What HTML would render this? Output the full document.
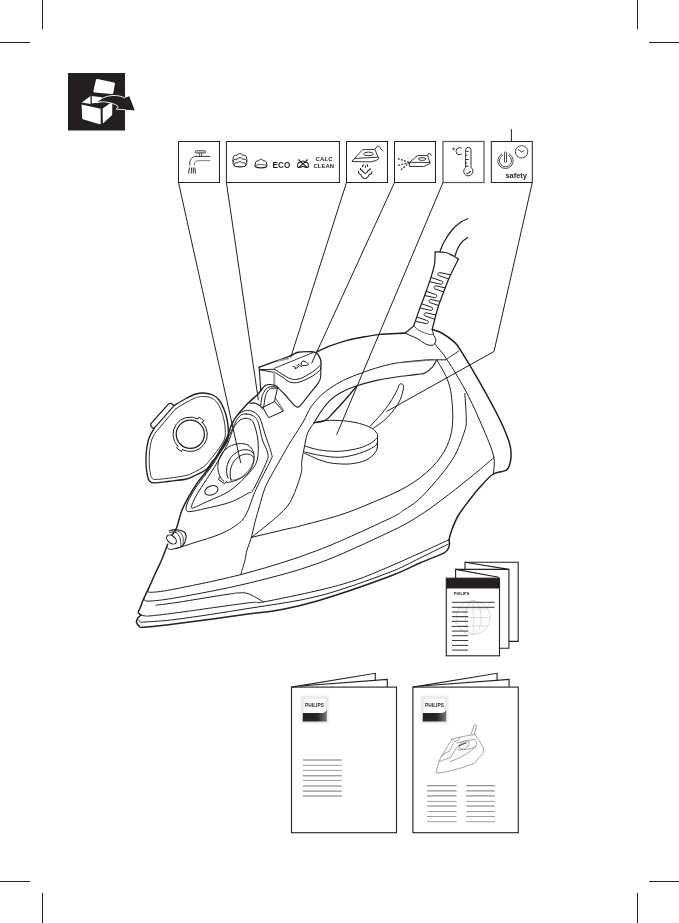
<!DOCTYPE html>
<html><head><meta charset="utf-8">
<style>
html,body{margin:0;padding:0;background:#fff;}
body{width:679px;height:923px;overflow:hidden;position:relative;}
svg{position:absolute;left:0;top:0;}
text{font-family:"Liberation Sans",sans-serif;opacity:0.999;}
</style></head>
<body>
<svg width="679" height="923" viewBox="0 0 679 923">
<g stroke="#231f20" stroke-width="1" fill="none">
<!-- crop marks -->
<path d="M42.5,0V29.5M0,42.5H30M637.5,0V29.5M649,42.5H679M0,881.5H30M42.5,893V923M649,881.5H679M637.5,893V923"/>
</g>
<!-- black box icon -->
<rect x="68" y="73" width="57" height="57.5" fill="#231f20"/>
<g fill="#fff">
<path d="M97.6,79 C96.7,78.9 96.1,79.4 95.9,80.3 L93.4,90.8 C93.2,91.7 93.7,92.4 94.6,92.5 L111.9,94.1 C112.7,94.2 113.2,93.7 113.3,93 L114.9,84.2 C115,83.4 114.6,82.8 113.8,82.6 Z"/>
<path d="M81.6,104.6 L100.6,108.7 L100.8,123.6 C100.8,124.2 100.3,124.5 99.7,124.3 L83.6,119.6 C82.7,119.3 82.1,118.6 82.1,117.7 Z"/>
<path d="M102.6,108.5 L112.3,101.8 L112.2,114.2 C112.2,114.9 111.9,115.4 111.4,115.8 L102.9,123.6 Z"/>
<path d="M81.8,102.6 L90.5,96 L90.5,103.9 Z"/>
<path d="M91.8,95.9 L101.8,97.3 L101.8,102 L91.8,103.6 Z"/>
</g>
<path d="M96.6,102.7 C100,99 105,96 112,95.5 C118,95.1 122.5,96.5 125.8,98.6 L129.2,96.3 L134.7,110.2 L116.3,109.2 L118.3,106.6 C115.5,104 111,102.6 104.5,101.9 C101,101.7 98.5,102 96.6,102.7 Z" fill="#231f20" stroke="#fff" stroke-width="0.9"/>
<path d="M124.9,97.8 L129.2,96.3 L134.7,110.2 L125.5,109.8 Z" fill="#231f20"/>
<!-- icon boxes -->
<g stroke="#231f20" stroke-width="1.0" fill="none">
<rect x="178.5" y="141.5" width="41" height="41"/>
<rect x="226.4" y="141.5" width="113" height="41"/>
<rect x="346.5" y="141.5" width="41" height="41"/>
<rect x="394.5" y="141.5" width="41" height="41"/>
<rect x="443" y="141.5" width="41" height="41" stroke="#555" stroke-width="1.2"/>
<rect x="491.3" y="141.5" width="41" height="41"/>
<path d="M511.4,129.2V141.5"/>
<!-- leader lines -->
<path d="M178.5,182.5L240.8,463.2"/>
<path d="M226.4,182.5L258.4,400.3"/>
<path d="M346.5,182.5L290.7,357.5"/>
<path d="M394.5,182.5L311.6,363.3"/>
<path d="M443,182.5L336.6,434.8"/>
<path d="M532.3,182.5L494,351.5L386.5,411.5"/>
</g>
<!-- tap icon -->
<g stroke="#231f20" stroke-width="0.9" fill="none">
<rect x="195.4" y="150.8" width="10.2" height="2.1" rx="1.05"/>
<path d="M199.6,152.9V156.4M201.6,152.9V156.4" stroke-width="0.7"/>
<path d="M210.3,156.4H196 C192,156.4 189.8,159.5 189.8,163.5 V165.5"/>
<path d="M210.3,160.7H197.5 C195.5,160.7 194.4,162 194.4,164 V165.5" stroke="#777" stroke-width="1"/>
<path d="M189.6,167.5 L188.4,173.5 M191.6,167.5 L191.2,173.5 M193.2,167.5 L193.4,173.5 M194.8,167.5 L195.6,173.5" stroke-width="0.9"/>
</g>
<!-- steam icons -->
<g stroke="#231f20" stroke-width="0.95" fill="none">
<path d="M233.10,158.80 C232.80,155.72 234.73,154.77 237.18,155.33 C237.59,152.92 242.21,152.92 242.62,155.33 C245.07,154.77 247.00,155.72 246.70,158.80"/>
<path d="M233.10,162.40 C232.80,159.65 234.73,158.80 237.18,159.30 C237.59,157.15 242.21,157.15 242.62,159.30 C245.07,158.80 247.00,159.65 246.70,162.40"/>
<path d="M233.1,158.8 C232.6,160.2 232.8,161.6 233.3,162.4 M246.7,158.8 C247.2,160.2 247,161.6 246.5,162.4"/>
<path d="M234.10,165.20 C233.80,163.11 235.49,162.46 237.58,162.84 C237.93,161.21 241.87,161.21 242.22,162.84 C244.31,162.46 246.00,163.11 245.70,165.20"/>
<path d="M234.1,165.2 C234.3,167.3 245.5,167.3 245.7,165.2" stroke-width="1.3"/>
<path d="M233.3,162.4 C232.5,163.5 233,164.5 234.1,165.2 M246.5,162.4 C247.3,163.5 246.8,164.5 245.7,165.2"/>
<path d="M255.40,164.20 C255.10,161.34 256.74,160.46 258.76,160.98 C259.10,158.74 262.90,158.74 263.24,160.98 C265.26,160.46 266.90,161.34 266.60,164.20"/>
<path d="M255.4,164.2 C254.8,165.2 255,166.6 256,167 C257.5,168.2 264.5,168.2 266,167 C267,166.6 267.2,165.2 266.6,164.2" stroke-width="1.2"/>
<path d="M256,165.2 C258,164.3 264,164.3 266,165.2" stroke-width="0.7"/>
<path d="M297.70,165.30 C297.40,162.77 298.97,161.99 300.88,162.45 C301.20,160.47 304.80,160.47 305.12,162.45 C307.03,161.99 308.60,162.77 308.30,165.30" stroke-width="1.1"/>
<path d="M297.7,165.3 C297,166.3 297.6,167.3 299,167.4 C300.5,167.6 301.5,167 303,166.3 C304.5,167 305.5,167.6 307,167.4 C308.4,167.3 309,166.3 308.3,165.3" stroke-width="1.1"/>
<path d="M298.6,159.8 L307.5,167.6 M307.4,159.8 L298.5,167.6 M297.8,160 H299.8 M306.2,160 H308.2" stroke-width="1.1"/>
</g>
<g fill="#231f20" font-weight="bold">
<text x="272.5" y="168" font-size="8.2" letter-spacing="0.1">ECO</text>
<text x="315.6" y="160.6" font-size="5.9" letter-spacing="0.2">CALC</text>
<text x="313.4" y="167.9" font-size="5.9" letter-spacing="0.1">CLEAN</text>
</g>
<!-- iron icon box3 -->
<g stroke="#231f20" stroke-width="0.9" fill="none" stroke-linejoin="round">
<path d="M351.8,161.3 L362.6,149.7 L374.8,149.3 L378.8,158.8 L376,160.5 L370.8,161.9 L352,161.5"/>
<path d="M354,158.5 L378.3,157.2"/>
<ellipse cx="368.5" cy="153.9" rx="5" ry="1.8"/>
<path d="M374.8,149.3 L377.5,146.2 Q379,145.5 380,147.5 Q381.5,150 383.3,151.3"/>
<path d="M363.5,164.2 L362.3,167.1 M365.4,165.4 V167.7 M366.9,164.2 Q367.5,164.5 367.7,166.9" stroke-width="1.1"/>
<path d="M360.4,168 C360.2,169.5 360.8,170.2 362.3,170.5 C363,172 364,173.4 365.2,173.4 C366.4,173.4 367.4,172 368,170.5 C369.5,170.2 370.5,169.5 370.4,168.2" stroke-width="1.05"/>
<path d="M358.5,171.1 C358,172.8 358.8,174.2 360.8,174.6 C361.5,176.5 363,178.4 365,178.4 C367,178.4 368.5,176.5 369.2,174.6 C371.2,174.2 372,172.8 371.7,171.3" stroke-width="1.05"/>
</g>
<!-- spray icon box4 -->
<g stroke="#231f20" stroke-width="0.9" fill="none" stroke-linejoin="round">
<path d="M409.3,162.5 L417.5,155.6 L427.5,155.4 L430.2,163.5 L423.5,166.5 L409.3,166.5 Z"/>
<path d="M410,162.3 L430,162.5"/>
<ellipse cx="422.2" cy="159" rx="3.8" ry="1.4"/>
<path d="M427.5,155.4 L429.4,152.9 L431.5,155.6"/>
<path d="M398,158.6 L409.5,162.5 M398.3,165.3 L409.5,162.5 M401,169.8 L409.5,162.5" stroke-dasharray="1.9 1.3" stroke-width="1.15" stroke-linecap="butt"/>
</g>
<!-- thermometer box5 -->
<g stroke="#231f20" stroke-width="0.9" fill="none">
<path d="M465.6,167.5 V149.8 Q465.6,147.3 468.3,147.3 Q471,147.3 471,149.8 V167.5 A4.6,4.6 0 1 1 465.6,167.5Z"/>
<path d="M465.6,151.3H468.8M465.6,155.2H467.3M465.6,159.5H468.8M465.6,163H467.3M465.6,166.2H468.8"/>
<path d="M466.5,173.5 Q469,174 470.5,171" stroke-width="1.2"/>
<circle cx="453.6" cy="149" r="0.8"/>
<path d="M461.8,148.3 Q460.5,147.5 459,147.7 Q456,148.2 456,151.2 Q456,154.6 459,154.7 Q460.8,154.7 461.9,153.9"/>
</g>
<!-- safety box6 -->
<g stroke="#231f20" stroke-width="0.8" fill="none">
<path d="M501.5,154.2 A7.7,7.7 0 1 0 509.5,154.2 L508.7,155.7 A6,6 0 1 1 502.3,155.7Z"/>
<path d="M504.5,152.5 Q505.5,151 506.5,152.5 V162 Q505.5,163.5 504.5,162Z"/>
<circle cx="521.6" cy="151.8" r="6.2"/>
<path d="M518,149.5 L521.6,152 L524.3,150.6"/>
</g>
<text x="505.4" y="177.6" font-size="7.6" fill="#231f20" font-weight="bold" textLength="21.6" lengthAdjust="spacingAndGlyphs">safety</text>

<defs><clipPath id="sleeveclip"><path d="M413.7,325.9C414.6,323.3 417.0,316.2 419.1,310.4C421.2,304.6 424.0,297.5 426.2,291.3C428.4,285.1 430.8,278.0 432.2,273.4C433.6,268.8 434.1,267.4 434.6,263.8C435.1,260.2 435.1,253.9 435.2,251.9 L458.4,259.1 L458.4,259.1C457.0,261.9 452.3,271.0 450.1,275.8C447.9,280.6 447.3,282.5 445.3,287.7C443.3,292.9 440.4,299.9 438.2,306.8C436.0,313.8 433.2,325.6 432.2,329.4Z"/></clipPath></defs><g stroke="#231f20" fill="none" stroke-linecap="round" stroke-linejoin="round">
<path d="M174.0,405.6C176.0,404.4 182.3,400.4 186.0,398.5C189.7,396.6 193.0,394.9 196.0,394.0C199.0,393.1 201.2,392.8 204.0,393.0C206.8,393.2 210.3,393.8 212.8,395.0C215.3,396.2 217.2,397.8 219.0,400.0C220.8,402.2 222.2,404.8 223.5,408.0C224.8,411.2 226.2,415.3 227.0,419.0C227.8,422.7 228.2,426.5 228.3,430.0C228.4,433.5 228.9,436.5 227.7,440.0C226.5,443.5 223.6,447.3 221.0,451.0C218.4,454.7 214.4,459.0 212.0,462.0C209.6,465.0 209.2,467.0 206.5,469.2C203.8,471.4 199.3,473.4 196.0,475.0C192.7,476.6 190.8,478.0 186.5,479.0C182.2,480.0 175.4,480.6 170.0,481.2C164.6,481.8 157.5,482.9 154.1,482.9C150.7,482.9 150.6,482.1 149.5,481.0C148.4,479.9 148.1,478.8 147.5,476.0C146.9,473.2 146.2,468.3 146.0,464.0C145.8,459.7 146.0,454.3 146.5,450.0C147.0,445.7 147.7,441.6 149.0,438.0C150.3,434.4 153.2,430.0 154.1,428.4" stroke-width="1.38"/>
<path d="M175.5,409.0C177.4,407.8 183.5,403.9 187.0,402.0C190.5,400.1 193.7,398.4 196.5,397.5C199.3,396.6 201.5,396.4 204.0,396.5C206.5,396.6 209.3,397.0 211.5,398.0C213.7,399.0 215.4,400.5 217.0,402.5C218.6,404.5 219.8,407.1 221.0,410.0C222.2,412.9 223.3,416.7 224.0,420.0C224.7,423.3 225.2,426.8 225.3,430.0C225.4,433.2 225.6,435.8 224.5,439.0C223.4,442.2 221.0,445.4 218.5,449.0C216.0,452.6 211.9,457.6 209.5,460.5C207.1,463.4 206.4,464.6 203.9,466.5C201.4,468.4 197.5,470.5 194.5,472.0C191.5,473.5 190.1,474.5 186.0,475.5C181.9,476.5 175.1,477.3 170.0,478.0C164.9,478.7 158.5,479.5 155.5,479.5C152.5,479.5 152.8,478.9 152.0,478.0C151.2,477.1 151.0,476.5 150.5,474.0C150.0,471.5 149.3,467.0 149.2,463.0C149.1,459.0 149.2,454.0 149.7,450.0C150.2,446.0 151.0,441.9 152.0,439.0C153.0,436.1 154.9,433.6 155.5,432.5" stroke-width="0.88"/>
<path d="M154.1,428.4 Q150,427.5 150.9,423.6 L168.6,403.9 Q171,402.5 174,405.6" stroke-width="1.25"/>
<path d="M155.5,432.5 L175.5,409" stroke-width="0.88"/>
<path d="M154.1,428.4 L174,405.6" stroke-width="1.12"/>
<circle cx="190.3" cy="434.3" r="14.1" stroke-width="1.25"/>
<path d="M202.36,422.14A17.2,17.2 0 0 1 182.39,449.63L181.48,451.41A19.2,19.2 0 0 1 176.62,447.88L178.04,446.46A17.2,17.2 0 0 1 198.01,418.97L198.92,417.19A19.2,19.2 0 0 1 203.78,420.72L202.36,422.14Z" stroke-width="1.0"/>
<path d="M262.0,389.0C261.2,390.0 259.7,392.4 257.1,395.0C254.5,397.6 250.0,401.0 246.5,404.7C243.0,408.4 238.5,413.6 235.9,417.1C233.3,420.7 232.5,422.6 231.0,426.0C229.5,429.4 229.1,433.1 227.1,437.4C225.1,441.7 221.8,447.1 219.0,452.0C216.2,456.9 213.6,461.4 210.0,466.5C206.4,471.6 201.2,477.4 197.7,482.4C194.2,487.4 191.4,492.0 188.8,496.6C186.2,501.2 184.1,504.8 182.0,510.0C179.9,515.2 178.2,523.8 176.5,528.0C174.8,532.2 172.8,533.8 172.0,535.0" stroke-width="1.49"/>
<path d="M167.7,544.2C166.7,546.8 163.7,555.0 161.6,560.0C159.5,565.0 156.9,569.8 155.0,574.0C153.1,578.2 151.8,581.4 150.0,585.4C148.2,589.4 145.6,594.4 144.0,598.0C142.4,601.6 141.3,605.0 140.5,607.0C139.7,609.0 139.4,609.4 139.0,610.3C138.6,611.2 138.0,611.8 138.3,612.6C138.6,613.4 140.5,614.7 140.9,615.1" stroke-width="1.49"/>
<path d="M250.0,403.4C250.9,403.4 253.7,403.0 255.3,403.4C256.9,403.8 258.6,404.7 259.8,405.6C261.0,406.6 262.0,408.5 262.4,409.1" stroke-width="0.88"/>
<path d="M246.5,414.0C248.7,414.1 251.7,414.9 253.6,416.2C255.5,417.5 256.5,418.0 258.0,422.0C259.5,426.0 260.9,434.8 262.5,440.0C264.1,445.2 267.1,449.3 267.7,453.0C268.3,456.7 268.8,456.0 266.4,462.1C264.0,468.2 256.4,484.2 253.4,489.4C250.4,494.6 252.1,491.0 248.2,493.2C244.3,495.4 237.2,499.7 230.0,502.3C222.8,504.9 211.5,507.1 205.0,508.6C198.5,510.1 194.1,511.2 191.0,511.5C187.9,511.8 187.2,511.8 186.5,510.5C185.8,509.2 185.9,507.1 187.0,504.0C188.1,500.9 190.8,495.8 193.0,492.0C195.2,488.2 197.1,486.0 200.3,481.5C203.6,477.0 208.9,470.4 212.5,465.0C216.1,459.6 219.2,454.0 222.0,449.0C224.8,444.0 227.3,439.3 229.5,435.0C231.7,430.7 233.2,426.2 235.0,423.0C236.8,419.8 238.4,417.0 240.3,415.5C242.2,414.0 244.3,413.9 246.5,414.0Z" stroke-width="1.0"/>
<path d="M244.7,418.4C246.5,418.1 248.4,418.4 250.0,419.3C251.6,420.2 252.7,420.6 254.0,424.0C255.3,427.4 257.3,434.1 257.9,440.0C258.4,445.9 258.7,454.1 257.3,459.5C255.9,464.9 254.1,467.3 249.5,472.5C244.9,477.7 237.4,485.6 230.0,490.6C222.6,495.6 211.1,499.6 205.0,502.5C198.9,505.4 195.6,507.3 193.3,508.0C191.1,508.7 191.4,507.8 191.5,506.5C191.6,505.2 192.8,502.6 194.0,500.0C195.2,497.4 196.5,495.1 199.0,491.0C201.5,486.9 205.7,480.8 209.2,475.3C212.7,469.8 216.9,463.4 220.0,458.0C223.1,452.6 225.8,447.9 228.0,443.0C230.2,438.1 231.5,432.3 233.3,428.6C235.1,424.9 237.1,422.7 239.0,421.0C240.9,419.3 242.9,418.7 244.7,418.4Z" stroke-width="1.0"/>
<path d="M237.7,414.4C239.0,413.8 242.9,410.9 245.6,410.5C248.2,410.1 251.2,410.6 253.6,411.8C256.0,413.1 257.9,414.3 259.8,418.0C261.7,421.7 263.0,427.9 265.0,434.0C267.0,440.1 270.7,449.8 271.6,454.3C272.5,458.8 272.9,455.0 270.3,460.8C267.7,466.6 259.9,480.8 256.0,489.4C252.1,498.0 249.8,507.0 246.9,512.7C244.0,518.4 242.8,520.1 238.4,523.6C234.0,527.1 228.1,530.7 220.7,533.9C213.3,537.1 202.3,540.1 194.2,542.7C186.1,545.3 176.5,548.5 172.1,549.3C167.7,550.1 168.4,547.8 167.7,547.5" stroke-width="1.0"/>
<path d="M224,481.5 C217,476 215,462 223,452 C229,444.5 240,441.5 248,445 C255,449 256,460 251,469 C246,477 236,481.5 227,482.5" stroke-width="1.0"/>
<path d="M219.5,477 L218.5,479.5 L224.5,483.8 L226.5,481.5" stroke-width="1.0"/>
<path d="M228,478 C224.5,470 227,458 237,452 C243,448.5 250,449 253,453" stroke-width="1.0"/>
<path d="M231,480 C228.5,472 231,461 240,456 C245,453 251,453.5 253.4,456.9" stroke-width="1.0"/>
<path d="M230.5,480 C239,481 248,474 252.5,464 C254,460 254,457 253.4,456.9" stroke-width="0.62"/>
<ellipse cx="211.4" cy="490.4" rx="6.9" ry="4.4" transform="rotate(-22 211.4 490.4)" stroke-width="1.0"/>
<path d="M169.1,530.9C170.1,530.7 172.5,529.4 175.0,529.5C177.5,529.6 182.1,530.6 183.9,531.7C185.8,532.8 186.0,534.3 186.1,536.1C186.2,537.9 185.5,540.9 184.6,542.7C183.7,544.5 182.5,546.1 180.9,547.1C179.3,548.1 176.0,548.4 175.0,548.6" stroke-width="1.12"/>
<ellipse cx="171.5" cy="539.5" rx="5.6" ry="3.6" transform="rotate(40 171.5 539.5)" stroke-width="1.12"/>
<path d="M169.5,532.5C170.6,532.5 174.2,531.6 176.0,532.5C177.8,533.4 179.2,535.8 180.0,538.0C180.8,540.2 180.8,544.7 181.0,546.0" stroke-width="0.88"/>
<path d="M172.0,531.0C173.2,531.1 177.2,530.5 179.0,531.5C180.8,532.5 182.3,534.8 183.0,537.0C183.7,539.2 183.0,543.7 183.0,545.0" stroke-width="0.75"/>
<path d="M259.1,367.2C264.1,365.4 282.5,358.8 289.0,356.3C295.5,353.8 294.5,353.0 298.3,352.2C302.1,351.4 308.7,351.6 311.7,351.7C314.7,351.8 315.2,352.1 316.5,353.0C317.8,353.9 318.8,355.6 319.5,357.0C320.2,358.4 320.8,359.6 321.0,361.5C321.2,363.4 320.8,367.5 320.8,368.7" stroke-width="1.38"/>
<path d="M259.1,367.2 L259.3,369.7 L274.6,369.2" stroke-width="1.12"/>
<path d="M274.6,368.2 L312.7,352.7" stroke-width="0.88"/>
<path d="M278.7,360.6 L288,358.6" stroke="#999" stroke-width="1.84"/>
<path d="M274.6,369.2C275.8,370.0 279.1,372.3 281.8,373.9C284.6,375.5 288.0,378.2 291.1,379.0C294.2,379.8 296.8,379.7 300.4,378.5C304.0,377.3 309.4,373.9 312.7,371.8C316.0,369.7 318.8,366.6 320.0,365.6" stroke-width="1.0"/>
<path d="M275.6,372.8C276.8,373.6 280.6,375.9 283.0,377.5C285.4,379.1 287.3,381.3 290.0,382.1C292.7,382.9 295.5,383.1 299.3,382.1C303.1,381.1 309.2,378.0 312.7,375.9C316.2,373.8 319.2,370.7 320.5,369.7" stroke-width="1.0"/>
<path d="M320.8,368.7C320.8,370.2 321.0,375.5 320.5,378.0C320.0,380.5 319.8,380.9 317.7,383.9C315.6,386.8 311.2,392.0 308.2,395.7C305.2,399.4 301.7,404.5 299.5,406.2C297.3,407.9 297.2,407.5 294.8,405.6C292.4,403.7 288.2,398.1 285.3,395.0C282.4,391.9 278.7,388.5 277.4,387.2" stroke-width="1.12"/>
<path d="M259.3,369.7 L260.8,390.5" stroke-width="1.12"/>
<path d="M259.3,369.7 L273.8,372.3" stroke-width="1.0"/>
<path d="M274.1,372.3 L274.3,385" stroke="#aaa" stroke-width="2.3"/>
<path d="M261.0,390.0C261.8,389.2 264.0,386.2 265.6,385.3C267.2,384.4 269.1,384.4 270.8,384.5C272.5,384.6 274.8,385.3 275.9,385.8C277.0,386.3 277.2,387.1 277.5,387.4" stroke-width="1.12"/>
<path d="M263.6,408.0C263.9,405.9 264.8,398.6 265.6,395.6C266.5,392.6 267.6,391.2 268.7,390.0C269.8,388.8 270.7,388.6 272.0,388.3C273.3,388.0 275.8,388.4 276.5,388.4" stroke-width="1.0"/>
<path d="M260.5,407.0C260.8,405.3 261.3,399.3 262.0,396.6C262.7,393.9 263.6,392.5 264.6,391.0C265.6,389.5 266.8,388.1 268.2,387.4C269.6,386.7 271.3,386.6 272.8,386.6C274.3,386.6 276.3,387.4 277.0,387.5" stroke-width="1.0"/>
<path d="M277.6,387.5 L274.5,401.5" stroke-width="1.0"/>
<path d="M262.7,407.4 L274.5,401.5 L283.3,411.1 L268.6,417.7 L262.7,407.4" stroke-width="1.0"/>
<path d="M275.2,397.8 L283.6,410.4" stroke-width="0.75"/>
<path d="M250.9,403.0C251.8,403.1 254.0,402.7 256.0,403.4C258.0,404.1 261.6,406.7 262.7,407.4" stroke-width="0.88"/>
<path d="M301.2,363.8 C301,362 302.5,360.8 304,361.1 C305.5,361.5 307.5,363 308.8,364.3 C308,365.5 305.5,365.7 303,365.6 C302,365.5 301.3,364.8 301.2,363.8Z M298.3,364.3 L301.6,366.5 M296.8,365.4 L299,366.8 M293,366.3 L295.5,367.4 M295,368.8 L297.5,367.6" stroke-width="1.0"/>
<path d="M316.5,352.1C318.7,351.1 324.4,348.2 329.5,346.2C334.6,344.2 341.2,341.9 347.1,340.3C353.0,338.7 359.3,337.8 364.8,336.8C370.3,335.8 374.1,335.0 380.0,334.4C385.9,333.8 395.8,333.5 400.0,333.3C404.2,333.1 404.5,333.1 405.4,333.0" stroke-width="1.38"/>
<path d="M445.7,359.8C444.2,359.8 440.2,359.8 436.8,359.8C433.4,359.8 431.8,359.4 425.0,360.0C418.2,360.6 404.4,361.7 396.2,363.1C388.0,364.5 381.1,366.6 375.6,368.2C370.1,369.8 367.3,371.0 363.0,372.5C358.7,374.0 354.4,375.5 350.0,377.4C345.6,379.3 341.4,381.2 336.8,384.0C332.2,386.8 326.4,390.5 322.1,394.3C317.8,398.1 314.2,402.4 311.0,407.0C307.8,411.6 306.7,415.9 303.0,422.1C299.3,428.4 292.8,438.0 288.9,444.5C285.0,451.0 282.2,456.3 279.5,461.0C276.8,465.7 275.3,468.0 272.9,472.5C270.5,477.0 267.2,482.6 265.0,488.0C262.8,493.4 261.6,499.2 259.9,504.9C258.2,510.6 256.4,516.6 255.0,522.0C253.6,527.4 252.7,532.7 251.4,537.4C250.1,542.1 248.1,546.2 247.0,550.0C245.9,553.8 246.0,556.0 245.0,560.0C244.0,564.0 241.6,571.6 240.9,573.9" stroke-width="1.0"/>
<path d="M314.2,422.7C315.3,420.9 318.1,415.6 320.7,412.0C323.2,408.4 326.2,404.1 329.5,400.9C332.8,397.7 336.2,395.2 340.5,392.8C344.8,390.4 349.5,388.3 355.4,386.3C361.2,384.3 368.8,382.2 375.6,380.6C382.4,379.1 389.3,378.0 396.2,377.0C403.1,376.0 412.1,375.1 416.9,374.4C421.7,373.7 422.4,374.2 425.0,373.0C427.6,371.8 430.4,369.3 432.4,367.1C434.4,364.9 436.1,361.0 436.8,359.8" stroke-width="1.12"/>
<path d="M314.2,422.7C316.1,422.3 322.3,421.9 325.4,420.3C328.5,418.7 329.7,416.4 333.0,413.0C336.3,409.6 341.1,404.4 345.0,400.0C348.9,395.6 354.7,388.6 356.6,386.3" stroke-width="1.38"/>
<path d="M314.2,422.7C313.1,424.4 309.4,428.5 307.7,432.7C306.0,436.9 305.2,443.3 304.2,448.0C303.2,452.7 302.4,456.5 301.8,461.0C301.2,465.5 302.7,468.1 300.7,475.0C298.7,481.9 294.2,495.2 290.0,502.3C285.8,509.4 281.9,512.0 275.5,517.9C269.1,523.8 255.4,534.1 251.4,537.4" stroke-width="1.0"/>
<path d="M251.4,537.4 L290.0,528.3" stroke-width="1.0"/>
<path d="M313.9,422.8C316.0,422.4 321.5,420.8 326.5,420.5C331.5,420.2 338.2,420.3 343.7,420.8C349.2,421.3 355.0,422.3 359.6,423.5C364.2,424.7 368.7,426.5 371.6,428.1C374.5,429.8 375.9,431.8 376.9,433.4C377.9,434.9 377.4,436.7 377.5,437.4" stroke-width="1.0"/>
<path d="M304.6,446.0C307.2,446.7 314.0,449.1 319.9,450.0C325.8,450.9 333.2,451.6 339.8,451.3C346.4,451.0 354.3,449.4 359.6,448.0C364.9,446.6 368.6,444.5 371.6,442.7C374.6,440.9 376.5,438.3 377.5,437.4" stroke-width="1.0"/>
<path d="M304.6,452.0C307.2,452.6 314.0,454.4 319.9,455.3C325.8,456.2 333.2,457.6 339.8,457.3C346.4,457.0 353.9,455.1 359.6,453.3C365.3,451.5 371.2,448.6 374.2,446.7C377.2,444.8 376.9,442.8 377.5,442.0" stroke-width="1.0"/>
<path d="M304.6,453.3C307.2,454.4 315.1,458.3 319.9,460.0C324.6,461.7 328.0,462.7 333.1,463.3C338.2,463.9 344.9,464.4 350.4,463.9C355.9,463.3 362.1,462.0 366.3,460.0C370.5,458.0 373.7,454.4 375.6,452.0C377.5,449.6 377.2,446.5 377.5,445.4" stroke-width="1.0"/>
<path d="M377.5,434.8 L377.5,448.0" stroke-width="1.0"/>
<path d="M370.5,426.0C373.1,423.1 381.6,414.2 385.9,408.5C390.2,402.8 394.0,396.0 396.2,392.0C398.4,388.0 398.3,386.0 399.3,384.7C400.3,383.4 401.7,383.7 402.4,384.2C403.1,384.7 403.8,385.3 403.5,387.8C403.2,390.3 401.9,395.6 400.4,399.2C398.8,402.8 396.8,406.1 394.2,409.5C391.6,412.9 388.3,416.7 384.9,419.8C381.5,422.9 375.5,426.6 373.6,428.0" stroke-width="1.0"/>
<path d="M432.2,329.4C433.8,330.0 437.9,330.8 441.7,333.0C445.5,335.2 451.5,339.4 454.9,342.6C458.3,345.8 457.8,345.8 461.9,352.4C466.0,358.9 473.1,370.6 479.5,381.9C485.9,393.2 494.9,409.5 500.0,420.0C505.1,430.5 508.1,438.2 509.9,444.9C511.7,451.5 511.2,455.7 510.7,459.9C510.1,464.1 509.5,467.5 506.6,469.9C503.7,472.2 497.7,471.1 493.3,474.0C488.9,476.9 484.2,482.4 480.0,487.0C475.8,491.6 471.7,497.1 468.0,501.9C464.3,506.7 460.8,511.2 458.0,516.0C455.2,520.8 453.0,526.7 451.5,530.7C450.0,534.7 449.4,538.5 449.0,540.0" stroke-width="1.49"/>
<path d="M434.6,343.7C436.7,346.4 442.1,352.2 447.1,359.8C452.1,367.4 459.4,379.2 464.8,389.2C470.2,399.2 474.8,409.1 479.5,420.0C484.2,430.9 491.0,445.9 493.3,454.9C495.6,463.9 493.3,470.8 493.3,474.0" stroke-width="1.0"/>
<path d="M436.8,359.8C438.5,363.0 444.7,372.8 447.1,378.9C449.6,385.0 450.6,389.0 451.5,396.6C452.4,404.2 453.3,416.3 452.5,424.7C451.7,433.1 450.0,439.7 446.6,446.8C443.2,453.9 438.5,460.8 431.9,467.4C425.3,474.0 417.1,480.6 406.8,486.6C396.5,492.6 381.1,498.8 370.0,503.5C358.9,508.2 351.7,511.2 340.0,515.0C328.3,518.8 308.3,523.8 300.0,526.0C291.7,528.2 291.7,527.9 290.0,528.3" stroke-width="1.0"/>
<path d="M464.8,393.6C465.1,398.0 466.4,413.6 466.3,420.0C466.2,426.4 466.4,425.9 464.3,432.1C462.2,438.3 458.6,449.0 453.9,457.1C449.2,465.2 442.2,473.6 436.3,480.7C430.4,487.8 423.6,495.1 418.2,500.0C412.8,504.9 408.9,506.8 403.9,510.0C398.9,513.2 402.3,512.6 388.0,519.3C373.7,526.0 341.3,541.3 318.0,550.2C294.7,559.1 271.3,566.3 248.0,572.7C224.7,579.1 194.2,585.1 178.0,588.4C161.8,591.7 155.7,592.1 150.8,592.3C145.9,592.5 149.0,590.1 148.6,589.7" stroke-width="1.0"/>
<path d="M494.0,457.4C490.0,460.8 478.8,470.6 470.0,477.7C461.2,484.8 450.2,493.5 441.5,500.0C432.8,506.5 426.9,511.1 418.0,516.5C409.1,522.0 404.7,524.9 388.0,532.7C371.3,540.5 341.3,555.0 318.0,563.4C294.7,571.8 271.3,577.6 248.0,583.3C224.7,589.0 194.7,594.4 178.0,597.4C161.3,600.4 153.5,601.0 147.9,601.1C142.3,601.2 144.8,598.3 144.2,597.8" stroke-width="1.0"/>
<path d="M400.0,362.7 L436.8,359.8" stroke-width="0.75" stroke="#666"/>
<path d="M445.7,359.8 L458.9,350.9" stroke-width="0.88"/>
<path d="M413.7,325.9C414.6,323.3 417.0,316.2 419.1,310.4C421.2,304.6 424.0,297.5 426.2,291.3C428.4,285.1 430.8,278.0 432.2,273.4C433.6,268.8 434.1,267.4 434.6,263.8C435.1,260.2 435.1,253.9 435.2,251.9" stroke-width="1.25"/>
<path d="M435.2,251.9C436.9,252.0 442.4,251.9 445.3,252.5C448.2,253.1 450.3,254.4 452.5,255.5C454.7,256.6 457.4,258.5 458.4,259.1" stroke-width="1.25"/>
<path d="M458.4,259.1C457.0,261.9 452.3,271.0 450.1,275.8C447.9,280.6 447.3,282.5 445.3,287.7C443.3,292.9 440.4,299.9 438.2,306.8C436.0,313.8 433.2,325.6 432.2,329.4" stroke-width="1.25"/>
<path d="M413.7,325.9 L405.4,333.0 L400.0,333.6" stroke-width="1.25"/>
<path d="M406.0,333.6C408.0,334.5 414.5,337.2 417.9,339.0C421.3,340.8 423.6,343.3 426.2,344.3C428.8,345.3 431.8,345.7 433.4,345.0C435.0,344.3 435.8,342.0 435.8,340.2C435.8,338.4 434.0,336.0 433.4,334.2C432.8,332.4 432.4,330.2 432.2,329.4" stroke-width="1.0"/>
<path d="M413.7,325.9C414.8,326.8 417.3,329.6 420.0,331.0C422.7,332.4 427.6,334.0 429.8,334.5C432.0,335.0 432.8,334.2 433.4,334.2" stroke-width="0.75"/>
<path d="M440.0,251.3C440.7,249.8 442.0,245.6 444.0,242.0C446.0,238.4 449.2,233.3 452.0,230.0C454.8,226.7 458.4,223.9 461.0,222.0C463.6,220.1 466.5,219.3 467.6,218.8" stroke-width="1.25"/>
<path d="M454.9,256.1C455.4,254.8 456.8,250.3 458.0,248.0C459.2,245.7 460.4,243.7 462.0,242.0C463.6,240.3 466.7,238.3 467.6,237.6" stroke-width="1.25"/>
<path d="M452.2,275.2 L439.8,272.5 C437.2,272.5 437.2,275.9 439.8,275.9 L452.2,280.2 M448.3,288.5 L435.9,285.8 C433.3,285.8 433.3,289.2 435.9,289.2 L448.3,293.5 M443.4,302.2 L431.0,299.5 C428.4,299.5 428.4,302.9 431.0,302.9 L443.4,307.2 M438.4,315.5 L426.0,312.8 C423.4,312.8 423.4,316.2 426.0,316.2 L438.4,320.5 M428.4,276.5 L440.8,280.8 C443.4,280.8 443.4,284.2 440.8,284.2 L428.4,281.5 M422.4,290.0 L434.8,294.3 C437.4,294.3 437.4,297.7 434.8,297.7 L422.4,295.0 M418.5,302.7 L430.9,307.0 C433.5,307.0 433.5,310.4 430.9,310.4 L418.5,307.7 M413.9,316.0 L426.3,320.3 C428.9,320.3 428.9,323.7 426.3,323.7 L413.9,321.0 " clip-path="url(#sleeveclip)" stroke-width="1.0"/>
<path d="M140.9,615.1C141.6,615.2 143.5,615.8 145.0,615.9C146.5,616.0 144.6,616.4 150.1,615.9C155.6,615.4 161.7,614.8 178.0,612.6C194.3,610.4 233.8,604.7 248.0,602.9C262.2,601.1 251.8,604.0 263.5,601.9C275.2,599.8 302.6,594.1 318.0,590.5C333.4,586.9 344.3,583.9 356.0,580.0C367.7,576.1 377.3,571.7 388.0,567.2C398.7,562.7 410.2,557.4 420.0,553.0C429.8,548.6 441.7,543.0 446.5,540.8C451.3,538.6 448.6,540.1 449.0,540.0" stroke-width="1.0"/>
<path d="M138.7,619.9C139.0,620.3 139.4,621.8 140.5,622.1C141.6,622.5 138.8,622.5 145.0,622.0C151.2,621.5 160.8,621.4 178.0,619.1C195.2,616.9 224.7,612.3 248.0,608.5C271.3,604.7 294.7,602.1 318.0,596.2C341.3,590.3 371.0,579.3 388.0,572.9C405.0,566.5 410.0,562.8 420.0,558.0C430.0,553.2 443.5,546.4 448.2,544.1" stroke-width="1.0"/>
<path d="M140.9,615.1C140.3,615.6 138.3,617.2 137.6,618.4C136.9,619.6 136.3,620.9 136.5,622.1C136.7,623.3 137.7,624.9 139.0,625.8C140.3,626.7 137.7,627.7 144.2,627.3C150.7,626.9 160.7,625.8 178.0,623.6C195.3,621.4 231.2,616.3 248.0,614.0C264.8,611.7 267.2,612.2 278.9,610.0C290.6,607.8 299.8,606.3 318.0,600.8C336.2,595.3 371.0,583.3 388.0,577.0C405.0,570.7 410.8,567.0 420.0,563.0C429.2,559.0 438.5,555.6 443.2,553.3C447.9,551.0 446.9,550.5 448.0,549.0C449.1,547.5 449.3,545.5 449.5,544.0C449.7,542.5 449.1,540.7 449.0,540.0" stroke-width="1.49"/>
<path d="M156.0,605.2C159.7,604.7 165.8,604.2 178.0,602.3C190.2,600.4 219.5,595.5 229.5,594.0C239.5,592.5 234.7,593.1 237.8,593.0C240.9,592.9 243.7,592.1 248.0,593.6C252.3,595.1 260.9,600.5 263.5,601.9" stroke-width="1.0"/>
</g>

<!-- booklets -->
<g stroke="#231f20" stroke-width="1.1" fill="#fff">
<path d="M465,569.5 V562.3 H518.2 V641.4 H508.9"/>
<path d="M465,562.3 L508.9,569.4"/>
<path d="M455.6,578 V569.4 H508.9 V648.3 H499.5"/>
<path d="M455.6,569.4 L498.8,577.3"/>
<rect x="446.3" y="578.2" width="53.2" height="77.6"/>
</g>
<rect x="446.3" y="578.2" width="53.2" height="10.3" fill="#231f20"/>
<g stroke="#bbb" stroke-width="0.5" fill="none">
<circle cx="473.2" cy="617.6" r="17"/>
<ellipse cx="473.2" cy="617.6" rx="8" ry="17"/>
<path d="M473.2,600.6V634.6M456.2,617.6H490.2M458,609H488.4M458,626H488.4"/>
</g>
<text x="453.8" y="594.5" font-size="4" font-weight="bold" fill="#231f20">PHILIPS</text>
<g stroke="#231f20" stroke-width="0.9">
<path d="M451.9,602.3H494.5M451.9,607.3H494.5"/>
<path d="M451.9,612H468.2M451.9,616.6H468.2M451.9,621.3H468.2M451.9,626.4H468.2M451.9,631.1H468.2M451.9,635.7H468.2M451.9,640.5H468.2M451.9,645.4H468.2M451.9,650.1H468.2"/>
</g>

<g stroke="#231f20" stroke-width="1.1" fill="none">
<path d="M291.5,687.1 L375.3,673.3 V681"/>
<path d="M300,686 L387.3,679.4 V687.1"/>
<rect x="291.5" y="687.1" width="105" height="145.6"/>
<path d="M412.9,687.1 L497.1,673.3 V681"/>
<path d="M421,686 L509.1,679.4 V687.1"/>
<rect x="412.9" y="687.1" width="105.4" height="145.6"/>
</g>
<defs>
<linearGradient id="lg" x1="0" y1="0" x2="1" y2="0">
<stop offset="0" stop-color="#231f20"/><stop offset="0.6" stop-color="#2a2627"/><stop offset="1" stop-color="#777"/>
</linearGradient>
</defs>
<filter id="blur1" x="-20%" y="-20%" width="140%" height="140%"><feGaussianBlur stdDeviation="0.8"/></filter>
<rect x="302.4" y="697.4" width="24.6" height="24.6" fill="none" stroke="#d0d0d0" stroke-width="1.6" filter="url(#blur1)"/>
<rect x="422.4" y="697.4" width="24.0" height="24.6" fill="none" stroke="#d0d0d0" stroke-width="1.6" filter="url(#blur1)"/>
<path d="M302.8,713 H322.5 Q326.4,712.5 326.8,709 V721.6 H302.8Z" fill="url(#lg)"/>
<path d="M422.8,713 H441.9 Q445.8,712.5 446.2,709 V721.6 H422.8Z" fill="url(#lg)"/>
<g opacity="0.999">
<text x="305" y="707.2" font-size="5.3" font-weight="bold" fill="#231f20" letter-spacing="0.05" textLength="19" lengthAdjust="spacingAndGlyphs">PHILIPS</text>
<text x="425" y="707.2" font-size="5.3" font-weight="bold" fill="#231f20" letter-spacing="0.05" textLength="19" lengthAdjust="spacingAndGlyphs">PHILIPS</text>
</g>
<g stroke="#777" stroke-width="1">
<path d="M302.9,760H341.8M302.9,775.8H341.8M302.9,786H341.8M302.9,791.1H341.8M302.9,796H341.8"/>
<path d="M302.9,765.4H341.8M302.9,770.4H341.8M302.9,780.4H341.8" stroke-width="0.7"/>
<path d="M427.1,785.7H456.6M427.1,790.9H456.6M427.1,795.9H456.6M427.1,806H456.6M466.2,785.7H494.9M466.2,790.9H494.9M466.2,795.9H494.9M466.2,806H494.9"/>
<path d="M427.1,801.4H456.6M427.1,811.5H456.6M427.1,816.5H456.6M427.1,821.7H456.6M466.2,801.4H494.9M466.2,811.5H494.9M466.2,816.5H494.9M466.2,821.7H494.9" stroke-width="0.7"/>
</g>
<g stroke="#8a8a8a" stroke-width="0.8" fill="none" stroke-linejoin="round" stroke-linecap="round">
<path d="M451.2,741.2 C449,743.5 447,746.5 445.9,749.2 C443,754 441,757 439.7,759.8 C438,764 436.5,769 436.2,773 C441,773.5 446,771.5 452.1,770.4 C460,768.5 468,766 474.2,763.3 C476,761 478,759 479.5,757.1 C481.5,755 483.5,753 483.9,750.9 C483.5,748 482.5,746 481.2,743.9 C479.5,741 477.5,738 476,735.9 L474.2,734.6 C471,735 465,736 460,737.2 C456,738 453.5,738.5 452.1,739 Z"/>
<path d="M471.1,734.1 L474.2,724.9 L476.8,725.3 L474.2,734.6"/>
<path d="M452.1,739 L455,741.5 L458.5,740 L460,737.2"/>
<path d="M439.7,761.5 C443,760 448,758.5 451.2,757.1 C455,748 460,743 464,741.5"/>
<path d="M450.3,761.5 C458,759 468,754 476,746.5 C477,744 476.5,741 475.1,739.4 C470,740 462,741 457,743"/>
<path d="M441,756 C444,754 447,752 449.5,751 C451,748 452.5,745.5 453,744"/>
<path d="M458.8,747 C461,744.5 465,742 468.5,741.5 C470,743.5 468,747 465.5,748.8 C463,749.5 460,749 458.8,747 Z"/>
<path d="M459.5,745.5 L466,743" stroke="#555" stroke-width="1.1"/>
<path d="M458,749.5 C462,750.5 470,749.5 476,746.5"/>
</g>

</svg>
</body></html>
